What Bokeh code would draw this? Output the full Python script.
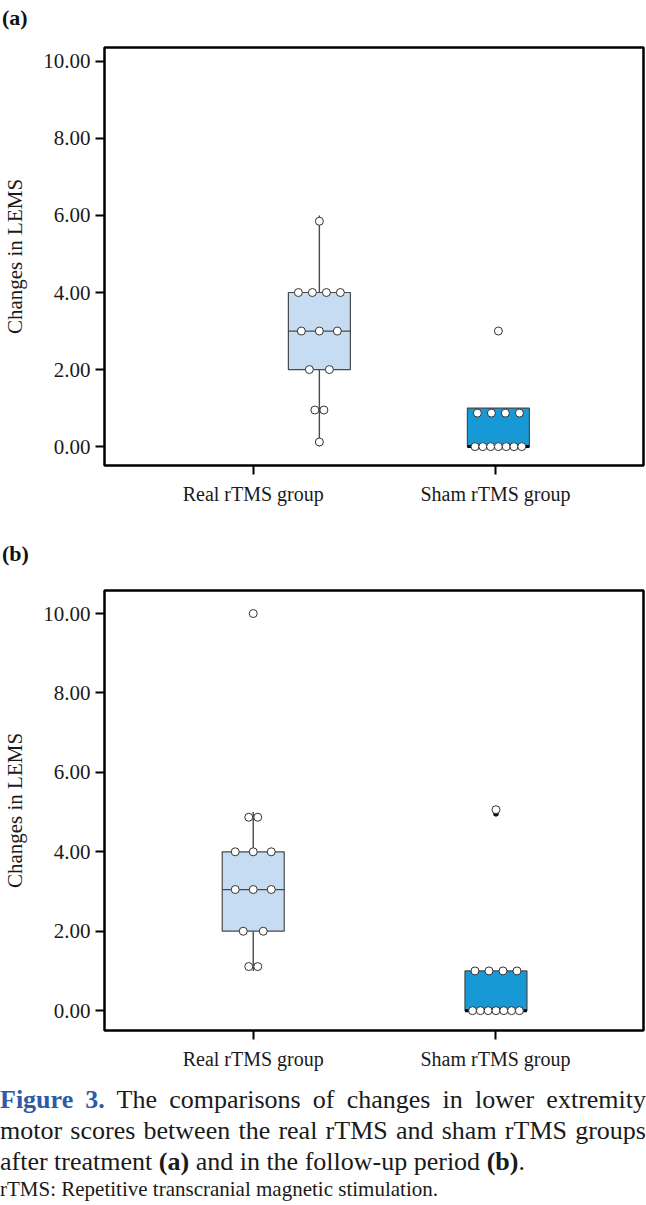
from bokeh.plotting import figure
from bokeh.models import FixedTicker, Div, PrintfTickFormatter
from bokeh.layouts import column
from bokeh.embed import file_html
from bokeh.resources import INLINE

# ---------------- data ----------------
categories = ["Real rTMS group", "Sham rTMS group"]
y_ticks = [0, 2, 4, 6, 8, 10]

# panel (a): after treatment
a_lower = [0.0, 0.0]
a_q1 = [2.0, 0.0]
a_median = [3.0, 0.0]
a_q3 = [4.0, 1.0]
a_upper = [6.0, 1.0]
a_real_points = [5.85, 4, 4, 4, 4, 3, 3, 3, 2, 2, 0.95, 0.95, 0.12]
a_sham_points = [3.0, 0.87, 0.87, 0.87, 0.87, 0, 0, 0, 0, 0, 0, 0]

# panel (b): follow-up period
b_lower = [1.0, 0.0]
b_q1 = [2.0, 0.0]
b_median = [3.05, 0.0]
b_q3 = [4.0, 1.0]
b_upper = [5.0, 1.0]
b_real_points = [10.0, 4.87, 4.87, 4, 4, 4, 3.05, 3.05, 3.05, 2, 2, 1.11, 1.11]
b_sham_points = [5.06, 1, 1, 1, 1, 0, 0, 0, 0, 0, 0, 0]
b_sham_extreme = [4.96]

# ---------------- style / layout ----------------
FONT = "Liberation Serif"
FILLS = ["#c6dcf2", "#1799d6"]
EDGE = "#4a4a4a"
W = 646
ML, MR = 104, 3
X_RANGE = (0.386, 2.611)
PX_PER_UNIT = (W - ML - MR) / (X_RANGE[1] - X_RANGE[0])
BOX_W = 62 / PX_PER_UNIT
GAP_BY_N = {1: 0, 2: 9, 3: 18, 4: 14, 7: 7.8}


def dot_positions(vals, center, q1, q3):
    xs = []
    groups = {}
    for v in vals:
        groups.setdefault(v, 0)
        groups[v] += 1
    seen = {}
    for v in vals:
        n = groups[v]
        i = seen.get(v, 0)
        seen[v] = i + 1
        gap = GAP_BY_N.get(n, 8)
        if n == 2 and v in (q1, q3):
            gap = 20
        xs.append(center + (i - (n - 1) / 2) * gap / PX_PER_UNIT)
    return xs


def panel(lower, q1, med, q3, upper, real_pts, sham_pts, shifts, y_range,
          top, frame_h, bottom, extreme=None):
    p = figure(width=W, height=top + frame_h + bottom, x_range=X_RANGE,
               y_range=y_range, output_backend="svg", toolbar_location=None,
               min_border_left=ML, min_border_right=MR, min_border_top=top,
               min_border_bottom=bottom)
    p.xgrid.visible = False
    p.ygrid.visible = False
    p.outline_line_color = "black"
    p.outline_line_width = 2.5
    p.background_fill_color = "white"
    p.border_fill_color = "white"
    for ax in (p.xaxis[0], p.yaxis[0]):
        ax.axis_line_color = None
        ax.major_tick_in = 0
        ax.major_tick_out = 9
        ax.major_tick_line_width = 2
        ax.major_tick_line_color = "black"
        ax.minor_tick_line_color = None
        ax.major_label_text_font = FONT
        ax.major_label_text_color = "#1a1a1a"
    p.xaxis.major_label_text_font_size = "20px"
    p.yaxis.major_label_text_font_size = "21px"
    p.xaxis.ticker = FixedTicker(ticks=[1, 2])
    p.xaxis.major_label_overrides = {1: categories[0], 2: categories[1]}
    p.xaxis.major_label_standoff = 8
    p.yaxis.ticker = FixedTicker(ticks=y_ticks)
    p.yaxis.formatter = PrintfTickFormatter(format="%.2f")
    p.yaxis.major_label_standoff = 5
    p.yaxis.axis_label = "Changes in LEMS"
    p.yaxis.axis_label_text_font = FONT
    p.yaxis.axis_label_text_font_size = "21px"
    p.yaxis.axis_label_text_font_style = "normal"
    p.yaxis.axis_label_text_color = "#1a1a1a"
    p.yaxis.axis_label_standoff = 13

    centers = [i + 1 + s for i, s in enumerate(shifts)]
    # whiskers
    p.segment(x0=centers, x1=centers, y0=q3, y1=upper, line_color=EDGE, line_width=1.4)
    p.segment(x0=centers, x1=centers, y0=lower, y1=q1, line_color=EDGE, line_width=1.4)
    # boxes
    p.vbar(x=centers, width=BOX_W, bottom=q1, top=q3, fill_color=FILLS,
           line_color=EDGE, line_width=1.2)
    # medians
    for c, m, lo in zip(centers, med, q1):
        thick = (m == lo)
        p.segment(x0=[c - BOX_W / 2], x1=[c + BOX_W / 2], y0=[m], y1=[m],
                  line_color="black" if thick else EDGE,
                  line_width=3 if thick else 1.2)
    if extreme:
        p.scatter(x=[centers[1]] * len(extreme), y=extreme, marker="asterisk",
                  size=6, line_color="black", line_width=1.5)
    # dots
    for idx, pts in enumerate((real_pts, sham_pts)):
        xs = dot_positions(pts, centers[idx], q1[idx], q3[idx])
        p.scatter(x=xs, y=pts, marker="circle", size=8, fill_color="white",
                  line_color="#333333", line_width=1)
    return p


pa = panel(a_lower, a_q1, a_median, a_q3, a_upper, a_real_points, a_sham_points,
           [0.273, 0.012], (-0.49, 10.36), 7, 418, 60)
pb = panel(b_lower, b_q1, b_median, b_q3, b_upper, b_real_points, b_sham_points,
           [0.0, 0.002], (-0.50, 10.58), 15, 440, 45, extreme=b_sham_extreme)

lab_style = ("font-family:'Liberation Serif';font-weight:bold;font-size:22px;"
             "color:#111;padding-left:2px;")
div_a = Div(text=f"<div style=\"{lab_style}padding-top:2px;\">(a)</div>",
            width=W, height=40, margin=(0, 0, 0, 0))
div_b = Div(text=f"<div style=\"{lab_style}padding-top:13px;\">(b)</div>",
            width=W, height=50, margin=(0, 0, 0, 0))

cap = ("font-family:'Liberation Serif';font-size:26px;line-height:31px;"
       "color:#1a1a1a;width:646px;white-space:nowrap;")
just = "text-align:justify;text-align-last:justify;"
caption = Div(text=(
    f"<div style=\"{cap}{just}padding-top:9px;\">"
    "<span style=\"color:#2f5aa6;font-weight:bold\">Figure 3.</span>"
    "<span> The comparisons of changes in lower extremity</span></div>"
    f"<div style=\"{cap}{just}\">motor scores between the real rTMS and sham rTMS groups</div>"
    f"<div style=\"{cap}\"><span>after treatment </span><b>(a)</b>"
    "<span> and in the follow-up period </span><b>(b)</b><span>.</span></div>"
    "<div style=\"font-family:'Liberation Serif';font-size:21px;line-height:25px;"
    "color:#1a1a1a;\">rTMS: Repetitive transcranial magnetic stimulation.</div>"),
    width=W, height=128, margin=(0, 0, 0, 0))

pa.margin = (0, 0, 0, 0)
pb.margin = (0, 0, 0, 0)
layout = column(div_a, pa, div_b, pb, caption, spacing=0)
open("out.html", "w").write(file_html(layout, INLINE))
